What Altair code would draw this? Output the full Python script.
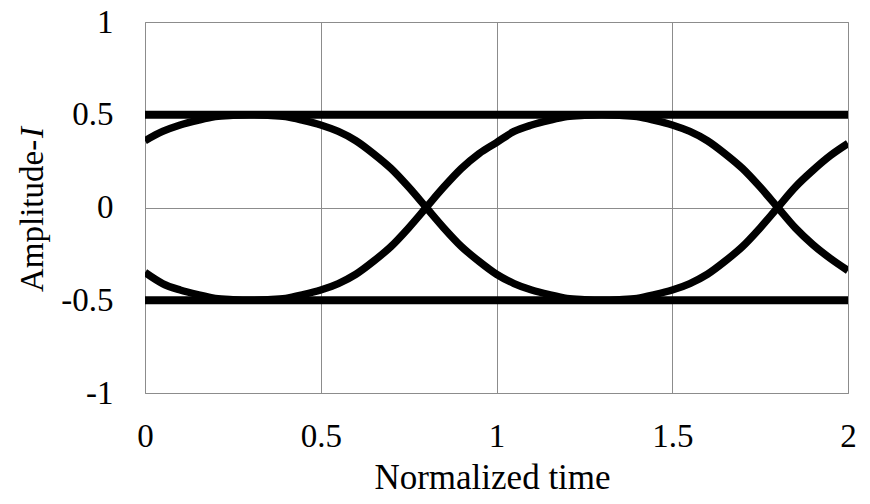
import altair as alt
import pandas as pd

# Normalized time samples and the two crossing traces of the eye diagram
time = [0.00, 0.05, 0.10, 0.15, 0.20, 0.25, 0.30, 0.35, 0.40, 0.45,
        0.50, 0.55, 0.60, 0.65, 0.70, 0.75, 0.80, 0.85, 0.90, 0.95,
        1.00, 1.05, 1.10, 1.15, 1.20, 1.25, 1.30, 1.35, 1.40, 1.45,
        1.50, 1.55, 1.60, 1.65, 1.70, 1.75, 1.80, 1.85, 1.90, 1.95, 2.00]

trace_a = [0.36, 0.41, 0.445, 0.47, 0.49, 0.497, 0.50, 0.497, 0.49, 0.47,
           0.445, 0.41, 0.36, 0.29, 0.21, 0.11, 0.00, -0.11, -0.21, -0.29,
           -0.36, -0.41, -0.445, -0.47, -0.49, -0.497, -0.50, -0.497, -0.49, -0.47,
           -0.445, -0.41, -0.36, -0.29, -0.21, -0.11, 0.00, 0.11, 0.20, 0.28, 0.345]

trace_b = [-0.35, -0.41, -0.445, -0.47, -0.49, -0.497, -0.50, -0.497, -0.49, -0.47,
           -0.445, -0.41, -0.36, -0.29, -0.21, -0.11, 0.00, 0.11, 0.21, 0.29,
           0.35, 0.41, 0.445, 0.47, 0.49, 0.497, 0.50, 0.497, 0.49, 0.47,
           0.445, 0.41, 0.36, 0.29, 0.21, 0.11, 0.00, -0.11, -0.20, -0.275, -0.34]

# Steady high / low levels
level_time = [0.0, 2.0]
level_high = [0.5, 0.5]
level_low = [-0.5, -0.5]

x_ticks = [0, 0.5, 1, 1.5, 2]
y_ticks = [-1, -0.5, 0, 0.5, 1]

FONT = "Liberation Serif"
W, H = 703, 371

curves = pd.concat([
    pd.DataFrame({"t": time, "v": trace_a, "trace": "a"}),
    pd.DataFrame({"t": time, "v": trace_b, "trace": "b"}),
])
levels = pd.concat([
    pd.DataFrame({"t": level_time, "v": level_high, "trace": "high"}),
    pd.DataFrame({"t": level_time, "v": level_low, "trace": "low"}),
])

x_enc = alt.X("t:Q", scale=alt.Scale(domain=[0, 2], nice=False),
              axis=alt.Axis(values=x_ticks, title=None, labelExpr="'' + datum.value",
                            labelBaseline="alphabetic", labelPadding=53, labelAlign="center"))
y_enc = alt.Y("v:Q", scale=alt.Scale(domain=[-1, 1], nice=False),
              axis=alt.Axis(values=y_ticks, title=None, labelExpr="'' + datum.value",
                            labelPadding=32))

level_lines = alt.Chart(levels).mark_line(
    color="black", strokeWidth=8, strokeCap="butt", clip=True
).encode(x=x_enc, y=y_enc, detail="trace:N")

curve_lines = alt.Chart(curves).mark_line(
    color="black", strokeWidth=7.5, strokeCap="butt", strokeJoin="round",
    interpolate="monotone", clip=True
).encode(x=x_enc, y=y_enc, detail="trace:N")

x_title = alt.Chart(pd.DataFrame({"s": ["Normalized time"]})).mark_text(
    font=FONT, fontSize=35, align="center", baseline="alphabetic", color="black"
).encode(x=alt.value(W / 2 - 4), y=alt.value(467), text="s:N")

y_title_main = alt.Chart(pd.DataFrame({"s": ["Amplitude-"]})).mark_text(
    font=FONT, fontSize=33, angle=270, align="left", baseline="alphabetic", color="black"
).encode(x=alt.value(-102), y=alt.value(270), text="s:N")

y_title_sym = alt.Chart(pd.DataFrame({"s": ["I"]})).mark_text(
    font=FONT, fontSize=33, fontStyle="italic", angle=270, align="right",
    baseline="alphabetic", color="black"
).encode(x=alt.value(-102), y=alt.value(105), text="s:N")

chart = alt.layer(level_lines, curve_lines, x_title, y_title_main, y_title_sym).properties(
    width=W, height=H,
    padding={"left": 145, "top": 22, "right": 22, "bottom": 111},
    autosize=alt.AutoSizeParams(type="none"),
    background="white",
).configure_axis(
    grid=True, gridColor="#8c8c8c", gridWidth=1,
    domain=False, ticks=False, tickSize=0,
    labelFont=FONT, labelFontSize=33, labelColor="black",
    labelFlush=False, labelOverlap=False,
).configure_view(
    stroke="#8c8c8c", strokeWidth=1
)

chart.save("out.html", embed_options={"renderer": "svg", "actions": False})
